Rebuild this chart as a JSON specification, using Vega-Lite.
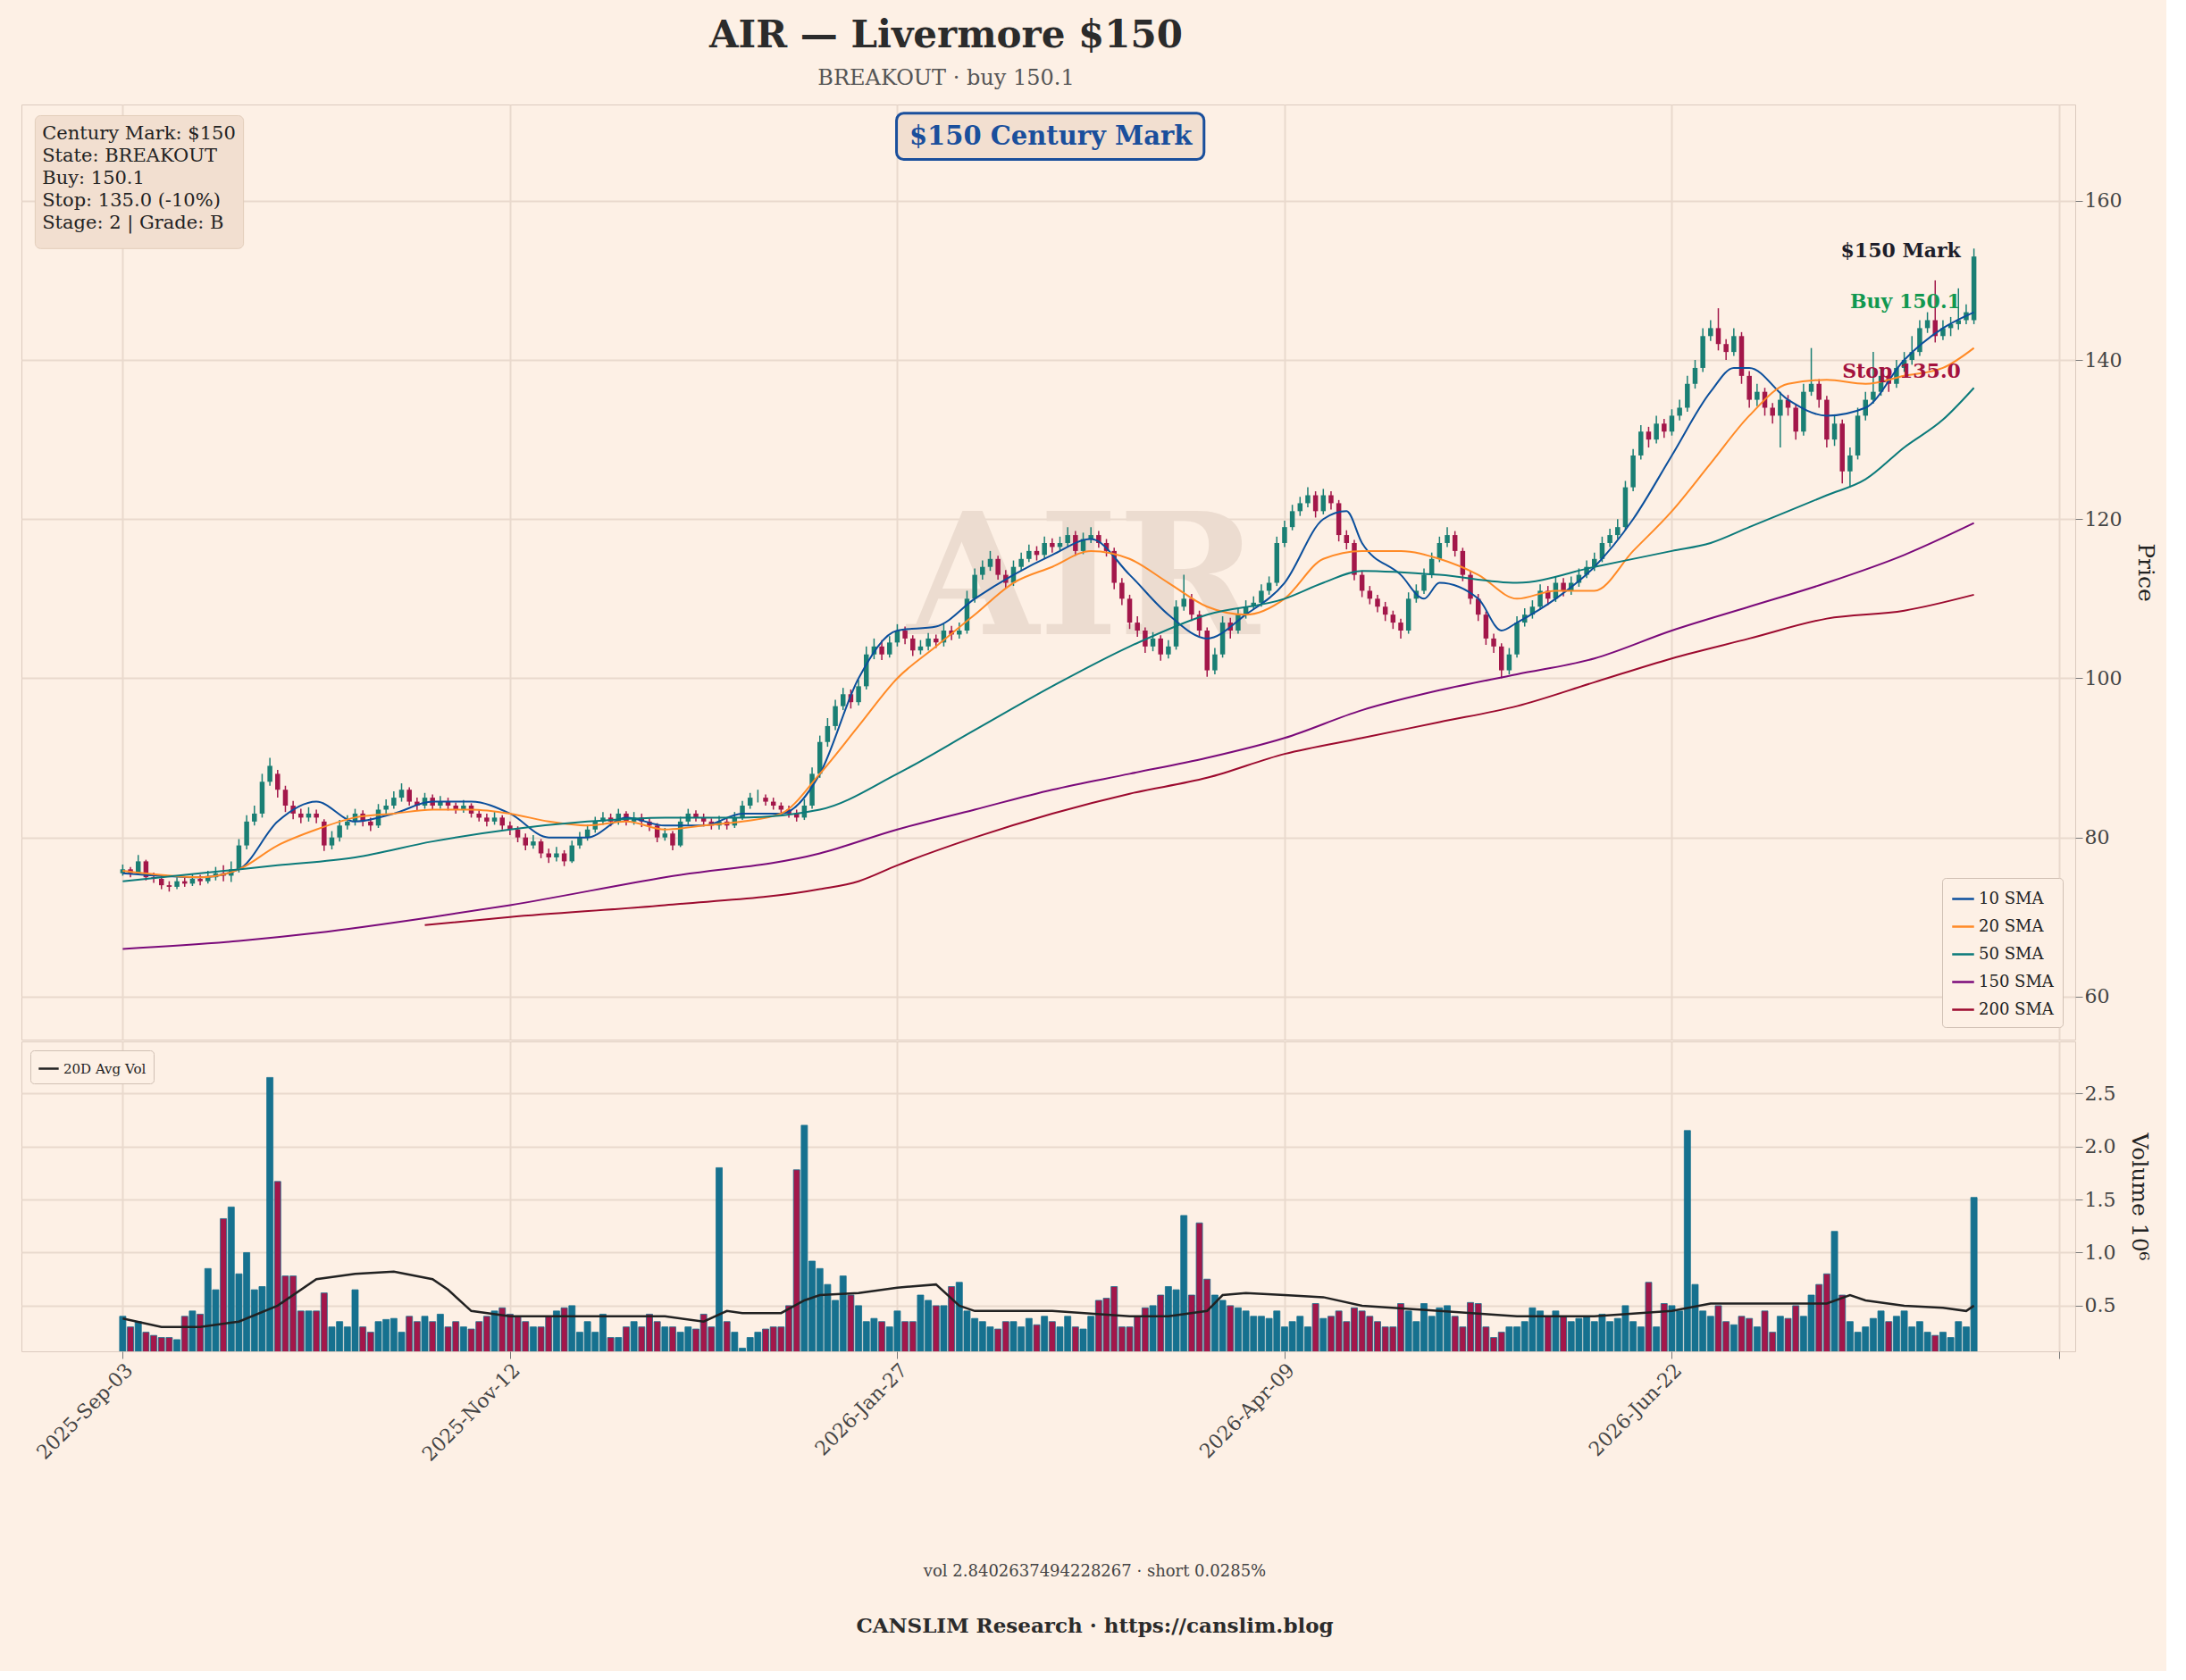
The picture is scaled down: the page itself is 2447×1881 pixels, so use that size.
{
  "$schema": "https://vega.github.io/schema/vega-lite/v6.json",
  "background": "#fdf0e5",
  "padding": {"left": 23, "top": 18, "right": 10, "bottom": 5},
  "title": {
    "text": "AIR — Livermore $150",
    "subtitle": "BREAKOUT · buy 150.1",
    "fontSize": 42, "font": "DejaVu Serif", "fontWeight": "bold", "color": "#2b2b2b",
    "subtitleFontSize": 24, "subtitleFont": "DejaVu Serif", "subtitleColor": "#555",
    "subtitlePadding": 14, "offset": 16, "anchor": "middle", "dx": -160
  },
  "datasets": {
    "candles": [
      {"i":0,"o":75.5,"h":76.6,"l":75.2,"c":76,"v":0.4},{"i":1,"o":76,"h":76.3,"l":75,"c":75.5,"v":0.3},{"i":2,"o":75.5,"h":77.8,"l":75.3,"c":77,"v":0.35},{"i":3,"o":77,"h":77.2,"l":74.6,"c":75,"v":0.25},{"i":4,"o":75,"h":75.6,"l":74.3,"c":74.8,"v":0.22},{"i":5,"o":74.8,"h":75.2,"l":73.5,"c":74,"v":0.2},{"i":6,"o":74,"h":74.5,"l":73.2,"c":73.8,"v":0.2},{"i":7,"o":73.8,"h":75,"l":73.5,"c":74.5,"v":0.18},{"i":8,"o":74.5,"h":75,"l":73.8,"c":74.2,"v":0.4},{"i":9,"o":74.2,"h":75.4,"l":73.9,"c":74.8,"v":0.45},
      {"i":10,"o":74.8,"h":75.3,"l":74,"c":74.5,"v":0.42},{"i":11,"o":74.5,"h":75.8,"l":74.2,"c":75,"v":0.85},{"i":12,"o":75,"h":76.3,"l":74.6,"c":75.5,"v":0.65},{"i":13,"o":75.5,"h":76.5,"l":74.5,"c":75.2,"v":1.32},{"i":14,"o":75.2,"h":77,"l":74.4,"c":76,"v":1.43},{"i":15,"o":76,"h":79.8,"l":75.6,"c":79,"v":0.8},{"i":16,"o":79,"h":82.8,"l":78.5,"c":82,"v":1.0},{"i":17,"o":82,"h":84,"l":81.5,"c":83,"v":0.65},{"i":18,"o":83,"h":88,"l":82.5,"c":87,"v":0.68},{"i":19,"o":87,"h":90,"l":86.5,"c":89,"v":2.65},
      {"i":20,"o":88,"h":88.5,"l":85,"c":86,"v":1.67},{"i":21,"o":86,"h":86.5,"l":83.2,"c":84,"v":0.78},{"i":22,"o":84,"h":84.6,"l":82.3,"c":83,"v":0.78},{"i":23,"o":83,"h":83.6,"l":81.8,"c":82.5,"v":0.45},{"i":24,"o":82.5,"h":83.8,"l":82,"c":83,"v":0.45},{"i":25,"o":83,"h":83.5,"l":81.8,"c":82.5,"v":0.45},{"i":26,"o":82,"h":82.3,"l":78.3,"c":79,"v":0.62},{"i":27,"o":79,"h":80.8,"l":78.5,"c":80,"v":0.3},{"i":28,"o":80,"h":82.2,"l":79.5,"c":81.5,"v":0.35},{"i":29,"o":81.5,"h":82.8,"l":81,"c":82,"v":0.3},
      {"i":30,"o":82,"h":83.6,"l":81.5,"c":83,"v":0.65},{"i":31,"o":83,"h":83.4,"l":81.4,"c":82,"v":0.3},{"i":32,"o":82,"h":82.5,"l":80.8,"c":81.5,"v":0.25},{"i":33,"o":81.5,"h":84.2,"l":81.2,"c":83.5,"v":0.35},{"i":34,"o":83.5,"h":84.8,"l":83,"c":84,"v":0.37},{"i":35,"o":84,"h":85.8,"l":83.6,"c":85,"v":0.38},{"i":36,"o":85,"h":86.8,"l":84.5,"c":86,"v":0.25},{"i":37,"o":86,"h":86.3,"l":84,"c":84.5,"v":0.4},{"i":38,"o":84.5,"h":85,"l":83.4,"c":84,"v":0.35},{"i":39,"o":84,"h":85.6,"l":83.6,"c":85,"v":0.4},
      {"i":40,"o":85,"h":85.4,"l":83.5,"c":84,"v":0.35},{"i":41,"o":84,"h":85.2,"l":83.6,"c":84.5,"v":0.42},{"i":42,"o":84.5,"h":85,"l":83.4,"c":84,"v":0.3},{"i":43,"o":84,"h":84.4,"l":83,"c":83.5,"v":0.35},{"i":44,"o":83.5,"h":84.7,"l":83.1,"c":84,"v":0.3},{"i":45,"o":84,"h":84.3,"l":82.5,"c":83,"v":0.28},{"i":46,"o":83,"h":83.4,"l":82,"c":82.5,"v":0.35},{"i":47,"o":82.5,"h":83,"l":81.4,"c":82,"v":0.4},{"i":48,"o":82,"h":83.2,"l":81.6,"c":82.5,"v":0.45},{"i":49,"o":82.5,"h":82.8,"l":81,"c":81.5,"v":0.48},
      {"i":50,"o":81.5,"h":82,"l":80.3,"c":81,"v":0.42},{"i":51,"o":81,"h":81.4,"l":79.4,"c":80,"v":0.4},{"i":52,"o":80,"h":80.5,"l":78.4,"c":79,"v":0.35},{"i":53,"o":79,"h":80.3,"l":78.6,"c":79.5,"v":0.3},{"i":54,"o":79.5,"h":79.8,"l":77.4,"c":78,"v":0.3},{"i":55,"o":78,"h":78.6,"l":76.8,"c":77.5,"v":0.4},{"i":56,"o":77.5,"h":78.8,"l":77,"c":78,"v":0.45},{"i":57,"o":78,"h":78.4,"l":76.4,"c":77,"v":0.48},{"i":58,"o":77,"h":79.6,"l":76.8,"c":79,"v":0.5},{"i":59,"o":79,"h":80.7,"l":78.6,"c":80,"v":0.25},
      {"i":60,"o":80,"h":81.6,"l":79.6,"c":81,"v":0.35},{"i":61,"o":81,"h":82.6,"l":80.6,"c":82,"v":0.25},{"i":62,"o":82,"h":83.2,"l":81.6,"c":82.5,"v":0.42},{"i":63,"o":82.5,"h":83,"l":81.4,"c":82,"v":0.2},{"i":64,"o":82,"h":83.6,"l":81.6,"c":83,"v":0.2},{"i":65,"o":83,"h":83.3,"l":81.5,"c":82,"v":0.3},{"i":66,"o":82,"h":83.2,"l":81.6,"c":82.5,"v":0.35},{"i":67,"o":82.5,"h":83,"l":81.3,"c":82,"v":0.3},{"i":68,"o":82,"h":82.4,"l":80.8,"c":81.5,"v":0.42},{"i":69,"o":81.5,"h":81.8,"l":79.4,"c":80,"v":0.35},
      {"i":70,"o":80,"h":81.2,"l":79.6,"c":80.5,"v":0.3},{"i":71,"o":80.5,"h":80.8,"l":78.4,"c":79,"v":0.3},{"i":72,"o":79,"h":82.6,"l":78.8,"c":82,"v":0.25},{"i":73,"o":82,"h":83.6,"l":81.6,"c":83,"v":0.3},{"i":74,"o":83,"h":83.4,"l":82,"c":82.5,"v":0.28},{"i":75,"o":82.5,"h":83,"l":81.4,"c":82,"v":0.42},{"i":76,"o":82,"h":82.4,"l":81,"c":81.5,"v":0.3},{"i":77,"o":81.5,"h":82.7,"l":81,"c":82,"v":1.8},{"i":78,"o":82,"h":82.4,"l":81,"c":81.5,"v":0.35},{"i":79,"o":81.5,"h":83.2,"l":81.2,"c":82.5,"v":0.25},
      {"i":80,"o":82.5,"h":84.6,"l":82.2,"c":84,"v":0.1},{"i":81,"o":84,"h":85.6,"l":83.6,"c":85,"v":0.2},{"i":82,"o":85,"h":86,"l":84.4,"c":85,"v":0.25},{"i":83,"o":85,"h":85.4,"l":84,"c":84.5,"v":0.28},{"i":84,"o":84.5,"h":85,"l":83.5,"c":84,"v":0.3},{"i":85,"o":84,"h":84.4,"l":83,"c":83.5,"v":0.3},{"i":86,"o":83.5,"h":84,"l":82.5,"c":83,"v":0.5},{"i":87,"o":83,"h":83.5,"l":82,"c":82.5,"v":1.78},{"i":88,"o":82.5,"h":84.8,"l":82.2,"c":84,"v":2.2},{"i":89,"o":84,"h":88.8,"l":83.6,"c":88,"v":0.92},
      {"i":90,"o":88,"h":92.8,"l":87.5,"c":92,"v":0.85},{"i":91,"o":92,"h":95,"l":91.4,"c":94,"v":0.7},{"i":92,"o":94,"h":97.3,"l":93.5,"c":96.5,"v":0.55},{"i":93,"o":96.5,"h":98.8,"l":96,"c":98,"v":0.78},{"i":94,"o":98,"h":98.6,"l":96.2,"c":97,"v":0.6},{"i":95,"o":97,"h":99.8,"l":96.6,"c":99,"v":0.5},{"i":96,"o":99,"h":104,"l":98.6,"c":103,"v":0.35},{"i":97,"o":103,"h":105,"l":102.4,"c":104,"v":0.38},{"i":98,"o":104,"h":104.8,"l":102.3,"c":103,"v":0.35},{"i":99,"o":103,"h":105.3,"l":102.6,"c":104.5,"v":0.3},
      {"i":100,"o":104.5,"h":106.8,"l":104,"c":106,"v":0.45},{"i":101,"o":106,"h":106.5,"l":104.3,"c":105,"v":0.35},{"i":102,"o":105,"h":105.4,"l":102.8,"c":103.5,"v":0.35},{"i":103,"o":103.5,"h":104.8,"l":103,"c":104,"v":0.6},{"i":104,"o":104,"h":105.7,"l":103.5,"c":105,"v":0.55},{"i":105,"o":105,"h":105.5,"l":103.8,"c":104.5,"v":0.5},{"i":106,"o":104.5,"h":106.8,"l":104,"c":106,"v":0.5},{"i":107,"o":106,"h":106.6,"l":104.8,"c":105.5,"v":0.68},{"i":108,"o":105.5,"h":107,"l":105,"c":106,"v":0.72},{"i":109,"o":106,"h":111,"l":105.6,"c":110,"v":0.45},
      {"i":110,"o":110,"h":113.8,"l":109.5,"c":113,"v":0.38},{"i":111,"o":113,"h":114.8,"l":112.4,"c":114,"v":0.35},{"i":112,"o":114,"h":116,"l":113.5,"c":115,"v":0.3},{"i":113,"o":115,"h":115.4,"l":112.4,"c":113,"v":0.28},{"i":114,"o":113,"h":113.6,"l":111.3,"c":112,"v":0.35},{"i":115,"o":112,"h":114.8,"l":111.6,"c":114,"v":0.35},{"i":116,"o":114,"h":115.8,"l":113.5,"c":115,"v":0.3},{"i":117,"o":115,"h":116.8,"l":114.6,"c":116,"v":0.38},{"i":118,"o":116,"h":116.6,"l":114.8,"c":115.5,"v":0.32},{"i":119,"o":115.5,"h":117.8,"l":115,"c":117,"v":0.4},
      {"i":120,"o":117,"h":117.6,"l":115.8,"c":116.5,"v":0.35},{"i":121,"o":116.5,"h":117.8,"l":116,"c":117,"v":0.3},{"i":122,"o":117,"h":119,"l":116.5,"c":118,"v":0.4},{"i":123,"o":118,"h":118.5,"l":115.4,"c":116,"v":0.3},{"i":124,"o":116,"h":118.3,"l":115.6,"c":117.5,"v":0.28},{"i":125,"o":117.5,"h":119,"l":117,"c":118,"v":0.4},{"i":126,"o":118,"h":118.5,"l":116.4,"c":117,"v":0.55},{"i":127,"o":117,"h":117.5,"l":115.3,"c":116,"v":0.57},{"i":128,"o":116,"h":116.4,"l":111.2,"c":112,"v":0.68},{"i":129,"o":112,"h":112.6,"l":109.2,"c":110,"v":0.3},
      {"i":130,"o":110,"h":110.5,"l":106.2,"c":107,"v":0.3},{"i":131,"o":107,"h":107.8,"l":105.2,"c":106,"v":0.4},{"i":132,"o":106,"h":106.4,"l":103.2,"c":104,"v":0.48},{"i":133,"o":104,"h":105.8,"l":103.4,"c":105,"v":0.5},{"i":134,"o":105,"h":105.4,"l":102.2,"c":103,"v":0.6},{"i":135,"o":103,"h":104.8,"l":102.5,"c":104,"v":0.68},{"i":136,"o":104,"h":109.8,"l":103.6,"c":109,"v":0.65},{"i":137,"o":109,"h":113,"l":108.5,"c":110,"v":1.35},{"i":138,"o":110,"h":110.6,"l":107.2,"c":108,"v":0.6},{"i":139,"o":108,"h":108.5,"l":105.2,"c":106,"v":1.28},
      {"i":140,"o":106,"h":106.4,"l":100.2,"c":101,"v":0.75},{"i":141,"o":101,"h":103.8,"l":100.5,"c":103,"v":0.6},{"i":142,"o":103,"h":107.8,"l":102.6,"c":107,"v":0.55},{"i":143,"o":107,"h":107.6,"l":105,"c":106,"v":0.5},{"i":144,"o":106,"h":108.8,"l":105.6,"c":108,"v":0.48},{"i":145,"o":108,"h":109.8,"l":107.5,"c":109,"v":0.45},{"i":146,"o":109,"h":110.3,"l":108.6,"c":109.5,"v":0.4},{"i":147,"o":109.5,"h":111.8,"l":109,"c":111,"v":0.4},{"i":148,"o":111,"h":112.8,"l":110.5,"c":112,"v":0.38},{"i":149,"o":112,"h":117.8,"l":111.6,"c":117,"v":0.45},
      {"i":150,"o":117,"h":119.8,"l":116.5,"c":119,"v":0.3},{"i":151,"o":119,"h":121.8,"l":118.6,"c":121,"v":0.35},{"i":152,"o":121,"h":122.8,"l":120.4,"c":122,"v":0.4},{"i":153,"o":122,"h":124,"l":121.5,"c":123,"v":0.3},{"i":154,"o":123,"h":123.5,"l":120.2,"c":121,"v":0.52},{"i":155,"o":121,"h":123.8,"l":120.6,"c":123,"v":0.38},{"i":156,"o":123,"h":123.5,"l":121.2,"c":122,"v":0.4},{"i":157,"o":122,"h":122.4,"l":117.2,"c":118,"v":0.45},{"i":158,"o":118,"h":118.6,"l":116.2,"c":117,"v":0.35},{"i":159,"o":117,"h":117.4,"l":112.3,"c":113,"v":0.48},
      {"i":160,"o":113,"h":113.5,"l":110.2,"c":111,"v":0.45},{"i":161,"o":111,"h":111.6,"l":109.3,"c":110,"v":0.4},{"i":162,"o":110,"h":110.5,"l":108.3,"c":109,"v":0.35},{"i":163,"o":109,"h":109.6,"l":107.2,"c":108,"v":0.3},{"i":164,"o":108,"h":108.5,"l":106.2,"c":107,"v":0.3},{"i":165,"o":107,"h":107.5,"l":105,"c":106,"v":0.52},{"i":166,"o":106,"h":110.8,"l":105.6,"c":110,"v":0.45},{"i":167,"o":110,"h":111.8,"l":109.5,"c":111,"v":0.35},{"i":168,"o":111,"h":113.8,"l":110.6,"c":113,"v":0.52},{"i":169,"o":113,"h":115.8,"l":112.6,"c":115,"v":0.4},
      {"i":170,"o":115,"h":117.8,"l":114.6,"c":117,"v":0.48},{"i":171,"o":117,"h":119,"l":116.5,"c":118,"v":0.5},{"i":172,"o":118,"h":118.5,"l":115.3,"c":116,"v":0.4},{"i":173,"o":116,"h":116.4,"l":112.2,"c":113,"v":0.3},{"i":174,"o":113,"h":113.4,"l":109.3,"c":110,"v":0.53},{"i":175,"o":110,"h":110.6,"l":107.2,"c":108,"v":0.52},{"i":176,"o":108,"h":108.4,"l":104.2,"c":105,"v":0.3},{"i":177,"o":105,"h":105.6,"l":103.2,"c":104,"v":0.2},{"i":178,"o":104,"h":104.4,"l":100,"c":101,"v":0.25},{"i":179,"o":101,"h":103.8,"l":100.5,"c":103,"v":0.3},
      {"i":180,"o":103,"h":107.8,"l":102.6,"c":107,"v":0.3},{"i":181,"o":107,"h":108.8,"l":106.5,"c":108,"v":0.35},{"i":182,"o":108,"h":109.8,"l":107.5,"c":109,"v":0.48},{"i":183,"o":109,"h":111.8,"l":108.6,"c":111,"v":0.45},{"i":184,"o":111,"h":111.6,"l":109.2,"c":110,"v":0.4},{"i":185,"o":110,"h":112.8,"l":109.6,"c":112,"v":0.45},{"i":186,"o":112,"h":112.6,"l":110.3,"c":111,"v":0.4},{"i":187,"o":111,"h":112.8,"l":110.5,"c":112,"v":0.35},{"i":188,"o":112,"h":113.8,"l":111.5,"c":113,"v":0.38},{"i":189,"o":113,"h":114.8,"l":112.6,"c":114,"v":0.4},
      {"i":190,"o":114,"h":115.8,"l":113.5,"c":115,"v":0.35},{"i":191,"o":115,"h":117.8,"l":114.6,"c":117,"v":0.42},{"i":192,"o":117,"h":118.8,"l":116.5,"c":118,"v":0.35},{"i":193,"o":118,"h":120,"l":117.5,"c":119,"v":0.38},{"i":194,"o":119,"h":124.8,"l":118.6,"c":124,"v":0.5},{"i":195,"o":124,"h":128.8,"l":123.5,"c":128,"v":0.35},{"i":196,"o":128,"h":131.8,"l":127.5,"c":131,"v":0.3},{"i":197,"o":131,"h":131.6,"l":129,"c":130,"v":0.72},{"i":198,"o":130,"h":133,"l":129.5,"c":132,"v":0.3},{"i":199,"o":132,"h":132.6,"l":130.2,"c":131,"v":0.52},
      {"i":200,"o":131,"h":133.8,"l":130.5,"c":133,"v":0.5},{"i":201,"o":133,"h":135,"l":132.4,"c":134,"v":0.45},{"i":202,"o":134,"h":138,"l":133.5,"c":137,"v":2.15},{"i":203,"o":137,"h":140,"l":136.4,"c":139,"v":0.7},{"i":204,"o":139,"h":144,"l":138.5,"c":143,"v":0.45},{"i":205,"o":143,"h":145,"l":142.4,"c":144,"v":0.4},{"i":206,"o":144,"h":146.5,"l":141.2,"c":142,"v":0.5},{"i":207,"o":142,"h":142.6,"l":140,"c":141,"v":0.35},{"i":208,"o":141,"h":144,"l":140.5,"c":143,"v":0.32},{"i":209,"o":143,"h":143.5,"l":137,"c":138,"v":0.4},
      {"i":210,"o":138,"h":138.6,"l":134,"c":135,"v":0.38},{"i":211,"o":135,"h":137,"l":134.2,"c":136,"v":0.3},{"i":212,"o":136,"h":136.5,"l":133,"c":134,"v":0.45},{"i":213,"o":134,"h":134.6,"l":132,"c":133,"v":0.25},{"i":214,"o":133,"h":136,"l":129,"c":135,"v":0.4},{"i":215,"o":135,"h":135.6,"l":133,"c":134,"v":0.38},{"i":216,"o":134,"h":134.5,"l":130,"c":131,"v":0.5},{"i":217,"o":131,"h":137,"l":130.5,"c":136,"v":0.4},{"i":218,"o":136,"h":141.5,"l":135.5,"c":137,"v":0.6},{"i":219,"o":137,"h":137.6,"l":134,"c":135,"v":0.7},
      {"i":220,"o":135,"h":135.5,"l":129,"c":130,"v":0.8},{"i":221,"o":130,"h":133,"l":129.2,"c":132,"v":1.2},{"i":222,"o":132,"h":132.5,"l":124.5,"c":126,"v":0.6},{"i":223,"o":126,"h":129,"l":124,"c":128,"v":0.35},{"i":224,"o":128,"h":134,"l":127.5,"c":133,"v":0.25},{"i":225,"o":133,"h":136,"l":132.4,"c":135,"v":0.3},{"i":226,"o":135,"h":141,"l":134.5,"c":136,"v":0.38},{"i":227,"o":136,"h":139,"l":135.5,"c":138,"v":0.45},{"i":228,"o":138,"h":139,"l":136,"c":137,"v":0.35},{"i":229,"o":137,"h":140,"l":136.5,"c":139,"v":0.4},
      {"i":230,"o":139,"h":141,"l":138.5,"c":140,"v":0.45},{"i":231,"o":140,"h":143,"l":139.4,"c":141,"v":0.3},{"i":232,"o":141,"h":145,"l":140.5,"c":144,"v":0.35},{"i":233,"o":144,"h":146,"l":143.4,"c":145,"v":0.25},{"i":234,"o":145,"h":150,"l":142.2,"c":143,"v":0.22},{"i":235,"o":143,"h":145,"l":142.5,"c":144,"v":0.25},{"i":236,"o":144,"h":145.4,"l":143,"c":144.5,"v":0.2},{"i":237,"o":144.5,"h":149,"l":143.8,"c":145,"v":0.35},{"i":238,"o":145,"h":147,"l":144.5,"c":146,"v":0.3},{"i":239,"o":145,"h":154,"l":144.5,"c":153,"v":1.52}
    ],
    "sma": [
      {"i":0,"s":"10 SMA","v":75.5},{"i":10,"s":"10 SMA","v":75},{"i":15,"s":"10 SMA","v":76},{"i":20,"s":"10 SMA","v":82},{"i":25,"s":"10 SMA","v":84.5},{"i":30,"s":"10 SMA","v":82},{"i":35,"s":"10 SMA","v":83},{"i":40,"s":"10 SMA","v":84.5},{"i":45,"s":"10 SMA","v":84.5},{"i":50,"s":"10 SMA","v":83},{"i":55,"s":"10 SMA","v":80},{"i":60,"s":"10 SMA","v":80},{"i":65,"s":"10 SMA","v":82.5},{"i":70,"s":"10 SMA","v":81.5},{"i":75,"s":"10 SMA","v":81.5},{"i":80,"s":"10 SMA","v":83},{"i":85,"s":"10 SMA","v":83},{"i":90,"s":"10 SMA","v":88},{"i":95,"s":"10 SMA","v":100},{"i":100,"s":"10 SMA","v":106},{"i":105,"s":"10 SMA","v":106.5},{"i":110,"s":"10 SMA","v":110},{"i":115,"s":"10 SMA","v":113},{"i":120,"s":"10 SMA","v":115.5},{"i":125,"s":"10 SMA","v":117.5},{"i":130,"s":"10 SMA","v":113},{"i":135,"s":"10 SMA","v":108},{"i":140,"s":"10 SMA","v":105},{"i":145,"s":"10 SMA","v":108},{"i":150,"s":"10 SMA","v":112},{"i":155,"s":"10 SMA","v":120},{"i":158,"s":"10 SMA","v":121},{"i":160,"s":"10 SMA","v":117},{"i":165,"s":"10 SMA","v":113},{"i":168,"s":"10 SMA","v":110},{"i":170,"s":"10 SMA","v":112},{"i":175,"s":"10 SMA","v":110},{"i":178,"s":"10 SMA","v":106},{"i":180,"s":"10 SMA","v":107},{"i":185,"s":"10 SMA","v":110},{"i":190,"s":"10 SMA","v":114},{"i":195,"s":"10 SMA","v":120},{"i":200,"s":"10 SMA","v":128},{"i":205,"s":"10 SMA","v":136},{"i":208,"s":"10 SMA","v":139},{"i":210,"s":"10 SMA","v":139},{"i":215,"s":"10 SMA","v":135},{"i":220,"s":"10 SMA","v":133},{"i":225,"s":"10 SMA","v":134},{"i":230,"s":"10 SMA","v":140},{"i":235,"s":"10 SMA","v":144},{"i":239,"s":"10 SMA","v":146},
      {"i":0,"s":"20 SMA","v":75.8},{"i":10,"s":"20 SMA","v":75},{"i":15,"s":"20 SMA","v":76},{"i":20,"s":"20 SMA","v":79},{"i":25,"s":"20 SMA","v":81},{"i":30,"s":"20 SMA","v":82.5},{"i":35,"s":"20 SMA","v":83},{"i":40,"s":"20 SMA","v":83.5},{"i":45,"s":"20 SMA","v":83.5},{"i":50,"s":"20 SMA","v":83},{"i":55,"s":"20 SMA","v":82},{"i":60,"s":"20 SMA","v":81.5},{"i":65,"s":"20 SMA","v":82},{"i":70,"s":"20 SMA","v":81},{"i":75,"s":"20 SMA","v":81.5},{"i":80,"s":"20 SMA","v":82},{"i":85,"s":"20 SMA","v":83},{"i":90,"s":"20 SMA","v":88},{"i":95,"s":"20 SMA","v":94},{"i":100,"s":"20 SMA","v":100},{"i":105,"s":"20 SMA","v":104},{"i":110,"s":"20 SMA","v":108},{"i":115,"s":"20 SMA","v":112},{"i":120,"s":"20 SMA","v":114},{"i":125,"s":"20 SMA","v":116},{"i":130,"s":"20 SMA","v":115},{"i":135,"s":"20 SMA","v":112},{"i":140,"s":"20 SMA","v":109},{"i":145,"s":"20 SMA","v":108},{"i":150,"s":"20 SMA","v":110},{"i":155,"s":"20 SMA","v":115},{"i":160,"s":"20 SMA","v":116},{"i":165,"s":"20 SMA","v":116},{"i":170,"s":"20 SMA","v":115},{"i":175,"s":"20 SMA","v":113},{"i":180,"s":"20 SMA","v":110},{"i":185,"s":"20 SMA","v":111},{"i":190,"s":"20 SMA","v":111},{"i":195,"s":"20 SMA","v":116},{"i":200,"s":"20 SMA","v":121},{"i":205,"s":"20 SMA","v":127},{"i":210,"s":"20 SMA","v":133},{"i":215,"s":"20 SMA","v":137},{"i":220,"s":"20 SMA","v":137.5},{"i":225,"s":"20 SMA","v":137},{"i":230,"s":"20 SMA","v":138},{"i":235,"s":"20 SMA","v":139},{"i":239,"s":"20 SMA","v":141.5},
      {"i":0,"s":"50 SMA","v":74.5},{"i":10,"s":"50 SMA","v":75.5},{"i":20,"s":"50 SMA","v":76.5},{"i":30,"s":"50 SMA","v":77.5},{"i":40,"s":"50 SMA","v":79.5},{"i":50,"s":"50 SMA","v":81},{"i":60,"s":"50 SMA","v":82},{"i":70,"s":"50 SMA","v":82.5},{"i":80,"s":"50 SMA","v":82.5},{"i":90,"s":"50 SMA","v":83.5},{"i":100,"s":"50 SMA","v":88},{"i":110,"s":"50 SMA","v":93.5},{"i":120,"s":"50 SMA","v":99},{"i":130,"s":"50 SMA","v":104},{"i":140,"s":"50 SMA","v":108},{"i":150,"s":"50 SMA","v":110},{"i":155,"s":"50 SMA","v":112},{"i":160,"s":"50 SMA","v":113.5},{"i":170,"s":"50 SMA","v":113},{"i":180,"s":"50 SMA","v":112},{"i":190,"s":"50 SMA","v":114},{"i":200,"s":"50 SMA","v":116},{"i":205,"s":"50 SMA","v":117},{"i":210,"s":"50 SMA","v":119},{"i":220,"s":"50 SMA","v":123},{"i":225,"s":"50 SMA","v":125},{"i":230,"s":"50 SMA","v":129},{"i":235,"s":"50 SMA","v":132.5},{"i":239,"s":"50 SMA","v":136.5},
      {"i":0,"s":"150 SMA","v":66},{"i":15,"s":"150 SMA","v":67},{"i":25,"s":"150 SMA","v":68},{"i":40,"s":"150 SMA","v":70},{"i":50,"s":"150 SMA","v":71.5},{"i":70,"s":"150 SMA","v":75},{"i":90,"s":"150 SMA","v":78},{"i":100,"s":"150 SMA","v":81},{"i":110,"s":"150 SMA","v":83.5},{"i":120,"s":"150 SMA","v":86},{"i":130,"s":"150 SMA","v":88},{"i":140,"s":"150 SMA","v":90},{"i":150,"s":"150 SMA","v":92.5},{"i":160,"s":"150 SMA","v":96},{"i":170,"s":"150 SMA","v":98.5},{"i":180,"s":"150 SMA","v":100.5},{"i":190,"s":"150 SMA","v":102.5},{"i":200,"s":"150 SMA","v":106},{"i":210,"s":"150 SMA","v":109},{"i":220,"s":"150 SMA","v":112},{"i":230,"s":"150 SMA","v":115.5},{"i":239,"s":"150 SMA","v":119.5},
      {"i":39,"s":"200 SMA","v":69},{"i":50,"s":"200 SMA","v":70},{"i":70,"s":"200 SMA","v":71.5},{"i":90,"s":"200 SMA","v":73.5},{"i":95,"s":"200 SMA","v":74.5},{"i":100,"s":"200 SMA","v":76.5},{"i":110,"s":"200 SMA","v":80},{"i":120,"s":"200 SMA","v":83},{"i":130,"s":"200 SMA","v":85.5},{"i":140,"s":"200 SMA","v":87.5},{"i":150,"s":"200 SMA","v":90.5},{"i":160,"s":"200 SMA","v":92.5},{"i":170,"s":"200 SMA","v":94.5},{"i":180,"s":"200 SMA","v":96.5},{"i":190,"s":"200 SMA","v":99.5},{"i":200,"s":"200 SMA","v":102.5},{"i":210,"s":"200 SMA","v":105},{"i":220,"s":"200 SMA","v":107.5},{"i":230,"s":"200 SMA","v":108.5},{"i":239,"s":"200 SMA","v":110.5}
    ],
    "avgvol": [
      {"i":0,"v":0.38,"s":"20D Avg Vol"},{"i":5,"v":0.3,"s":"20D Avg Vol"},{"i":10,"v":0.3,"s":"20D Avg Vol"},{"i":15,"v":0.35,"s":"20D Avg Vol"},{"i":20,"v":0.5,"s":"20D Avg Vol"},{"i":25,"v":0.75,"s":"20D Avg Vol"},{"i":30,"v":0.8,"s":"20D Avg Vol"},{"i":35,"v":0.82,"s":"20D Avg Vol"},{"i":40,"v":0.75,"s":"20D Avg Vol"},{"i":42,"v":0.65,"s":"20D Avg Vol"},{"i":45,"v":0.45,"s":"20D Avg Vol"},{"i":50,"v":0.4,"s":"20D Avg Vol"},{"i":60,"v":0.4,"s":"20D Avg Vol"},{"i":70,"v":0.4,"s":"20D Avg Vol"},{"i":75,"v":0.35,"s":"20D Avg Vol"},{"i":78,"v":0.45,"s":"20D Avg Vol"},{"i":80,"v":0.43,"s":"20D Avg Vol"},{"i":85,"v":0.43,"s":"20D Avg Vol"},{"i":88,"v":0.55,"s":"20D Avg Vol"},{"i":90,"v":0.6,"s":"20D Avg Vol"},{"i":95,"v":0.62,"s":"20D Avg Vol"},{"i":100,"v":0.67,"s":"20D Avg Vol"},{"i":105,"v":0.7,"s":"20D Avg Vol"},{"i":108,"v":0.5,"s":"20D Avg Vol"},{"i":110,"v":0.45,"s":"20D Avg Vol"},{"i":120,"v":0.45,"s":"20D Avg Vol"},{"i":130,"v":0.4,"s":"20D Avg Vol"},{"i":135,"v":0.4,"s":"20D Avg Vol"},{"i":140,"v":0.45,"s":"20D Avg Vol"},{"i":142,"v":0.6,"s":"20D Avg Vol"},{"i":145,"v":0.62,"s":"20D Avg Vol"},{"i":150,"v":0.6,"s":"20D Avg Vol"},{"i":155,"v":0.58,"s":"20D Avg Vol"},{"i":160,"v":0.5,"s":"20D Avg Vol"},{"i":170,"v":0.45,"s":"20D Avg Vol"},{"i":180,"v":0.4,"s":"20D Avg Vol"},{"i":190,"v":0.4,"s":"20D Avg Vol"},{"i":200,"v":0.45,"s":"20D Avg Vol"},{"i":205,"v":0.52,"s":"20D Avg Vol"},{"i":210,"v":0.52,"s":"20D Avg Vol"},{"i":220,"v":0.52,"s":"20D Avg Vol"},{"i":223,"v":0.6,"s":"20D Avg Vol"},{"i":225,"v":0.55,"s":"20D Avg Vol"},{"i":230,"v":0.5,"s":"20D Avg Vol"},{"i":235,"v":0.48,"s":"20D Avg Vol"},{"i":238,"v":0.45,"s":"20D Avg Vol"},{"i":239,"v":0.5,"s":"20D Avg Vol"}
    ]
  },
  "spacing": 0,
  "resolve": {"scale": {"color": "independent", "x": "shared"}, "legend": {"color": "independent"}},
  "vconcat": [
    {
      "width": 2299, "height": 1047,
      "layer": [
        {
          "data": {"values": [{"x1": -11.3, "x2": 15.6, "y1": 170.7, "y2": 154}]},
          "mark": {"type": "rect", "fill": "#f2dfd0", "stroke": "#e2cdbb", "cornerRadius": 6},
          "encoding": {"x": {"field": "x1", "type": "quantitative"}, "x2": {"field": "x2"}, "y": {"field": "y1", "type": "quantitative"}, "y2": {"field": "y2"}}
        },
        {
          "data": {"values": [{"x": -10.4, "y": 169.6, "t": "Century Mark: $150\nState: BREAKOUT\nBuy: 150.1\nStop: 135.0 (-10%)\nStage: 2 | Grade: B"}]},
          "mark": {"type": "text", "align": "left", "baseline": "top", "font": "DejaVu Serif", "fontSize": 21, "lineHeight": 25, "lineBreak": "\n", "color": "#222"},
          "encoding": {"x": {"field": "x", "type": "quantitative"}, "y": {"field": "y", "type": "quantitative"}, "text": {"field": "t"}}
        },
        {
          "data": {"values": [{"x": 124, "y": 112, "t": "AIR"}]},
          "mark": {"type": "text", "font": "DejaVu Serif", "fontWeight": "bold", "fontSize": 190, "color": "#ecdcd0", "baseline": "middle"},
          "encoding": {"x": {"field": "x", "type": "quantitative"}, "y": {"field": "y", "type": "quantitative"}, "text": {"field": "t"}}
        },
        {
          "data": {"values": [{"p": 150}]},
          "mark": {"type": "rule", "color": "#0e7a45", "strokeWidth": 3.5, "strokeDash": [12, 7]},
          "encoding": {"y": {"field": "p", "type": "quantitative"}}
        },
        {
          "data": {"values": [{"p": 135}]},
          "mark": {"type": "rule", "color": "#b01e48", "strokeWidth": 2.8, "strokeDash": [12, 7]},
          "encoding": {"y": {"field": "p", "type": "quantitative"}}
        },
        {
          "data": {"name": "candles"},
          "mark": {"type": "rule", "strokeWidth": 1.5},
          "encoding": {
            "x": {"field": "i", "type": "quantitative"},
            "y": {"field": "l", "type": "quantitative"},
            "y2": {"field": "h"},
            "color": {"condition": {"test": "datum.c >= datum.o", "value": "#1a7f74"}, "value": "#a3174a"}
          }
        },
        {
          "data": {"name": "candles"},
          "mark": {"type": "bar", "size": 5.5},
          "encoding": {
            "x": {"field": "i", "type": "quantitative"},
            "y": {"field": "o", "type": "quantitative"},
            "y2": {"field": "c"},
            "color": {"condition": {"test": "datum.c >= datum.o", "value": "#1a7f74"}, "value": "#a3174a"}
          }
        },
        {
          "data": {"name": "sma"},
          "mark": {"type": "line", "interpolate": "monotone"},
          "encoding": {
            "x": {"field": "i", "type": "quantitative"},
            "y": {"field": "v", "type": "quantitative"},
            "detail": {"field": "s"},
            "color": {
              "field": "s", "type": "nominal", "title": null,
              "scale": {"domain": ["10 SMA", "20 SMA", "50 SMA", "150 SMA", "200 SMA"], "range": ["#0b4f9c", "#ff8a26", "#0b7a7a", "#7a0a7a", "#9c0a2e"]},
              "legend": {"orient": "bottom-right", "fillColor": "#fdf0e5", "strokeColor": "#d0c0b4", "padding": 10, "cornerRadius": 4, "labelFont": "DejaVu Serif", "labelFontSize": 18, "symbolType": "stroke", "symbolStrokeWidth": 2.5, "symbolSize": 600, "rowPadding": 8, "offset": 14}
            },
            "strokeWidth": {"field": "s", "type": "nominal", "legend": null, "scale": {"domain": ["10 SMA", "20 SMA", "50 SMA", "150 SMA", "200 SMA"], "range": [2, 2, 2.5, 3, 3.8]}}
          }
        },
        {
          "data": {"values": [{"x": 237.3, "y": 153.7, "t": "$150 Mark"}]},
          "mark": {"type": "text", "align": "right", "font": "DejaVu Serif", "fontWeight": "bold", "fontSize": 22, "color": "#1e1e2a"},
          "encoding": {"x": {"field": "x", "type": "quantitative"}, "y": {"field": "y", "type": "quantitative"}, "text": {"field": "t"}}
        },
        {
          "data": {"values": [{"x": 237.3, "y": 147.3, "t": "Buy 150.1"}]},
          "mark": {"type": "text", "align": "right", "font": "DejaVu Serif", "fontWeight": "bold", "fontSize": 22, "color": "#119850"},
          "encoding": {"x": {"field": "x", "type": "quantitative"}, "y": {"field": "y", "type": "quantitative"}, "text": {"field": "t"}}
        },
        {
          "data": {"values": [{"x": 237.3, "y": 138.6, "t": "Stop 135.0"}]},
          "mark": {"type": "text", "align": "right", "font": "DejaVu Serif", "fontWeight": "bold", "fontSize": 22, "color": "#a3123e"},
          "encoding": {"x": {"field": "x", "type": "quantitative"}, "y": {"field": "y", "type": "quantitative"}, "text": {"field": "t"}}
        },
        {
          "data": {"values": [{"x1": 99.9, "x2": 139.6, "y1": 171, "y2": 165.2}]},
          "mark": {"type": "rect", "fill": "#f2dfd0", "stroke": "#1a4f9c", "strokeWidth": 3, "cornerRadius": 8},
          "encoding": {"x": {"field": "x1", "type": "quantitative"}, "x2": {"field": "x2"}, "y": {"field": "y1", "type": "quantitative"}, "y2": {"field": "y2"}}
        },
        {
          "data": {"values": [{"x": 119.8, "y": 168.1, "t": "$150 Century Mark"}]},
          "mark": {"type": "text", "baseline": "middle", "font": "DejaVu Serif", "fontWeight": "bold", "fontSize": 29, "color": "#1a4f9c"},
          "encoding": {"x": {"field": "x", "type": "quantitative"}, "y": {"field": "y", "type": "quantitative"}, "text": {"field": "t"}}
        }
      ],
      "encoding": {
        "x": {"field": "i", "type": "quantitative", "scale": {"domain": [-12.5, 251.5], "nice": false, "zero": false}, "axis": {"values": [0, 50, 100, 150, 200, 250], "labels": false, "ticks": false, "title": null}},
        "y": {"field": "p", "type": "quantitative", "scale": {"domain": [54.6, 172.1], "nice": false, "zero": false}, "axis": {"orient": "right", "values": [60, 80, 100, 120, 140, 160], "title": "Price", "titleFontSize": 25, "titlePadding": 14}}
      }
    },
    {
      "width": 2299, "height": 347,
      "layer": [
        {
          "data": {"name": "candles"},
          "mark": {"type": "bar", "size": 7, "clip": true},
          "encoding": {
            "x": {"field": "i", "type": "quantitative"},
            "y": {"field": "v", "type": "quantitative"},
            "color": {"condition": {"test": "datum.c >= datum.o", "value": "#16718f"}, "value": "#a3174a"},
            "stroke": {"value": "#16718f"}, "strokeWidth": {"value": 0.8}
          }
        },
        {
          "data": {"name": "avgvol"},
          "mark": {"type": "line", "strokeWidth": 2.5},
          "encoding": {
            "x": {"field": "i", "type": "quantitative"},
            "y": {"field": "v", "type": "quantitative"},
            "color": {"field": "s", "type": "nominal", "title": null, "scale": {"domain": ["20D Avg Vol"], "range": ["#222222"]},
              "legend": {"orient": "top-left", "fillColor": "#fdf0e5", "strokeColor": "#d0c0b4", "padding": 8, "cornerRadius": 4, "labelFont": "DejaVu Serif", "labelFontSize": 15, "symbolType": "stroke", "symbolStrokeWidth": 2.5, "symbolSize": 500, "offset": 10}}
          }
        }
      ],
      "encoding": {
        "x": {"field": "i", "type": "quantitative", "scale": {"domain": [-12.5, 251.5], "nice": false, "zero": false},
          "axis": {"values": [0, 50, 100, 150, 200, 250], "labelExpr": "datum.value == 0 ? '2025-Sep-03' : datum.value == 50 ? '2025-Nov-12' : datum.value == 100 ? '2026-Jan-27' : datum.value == 150 ? '2026-Apr-09' : datum.value == 200 ? '2026-Jun-22' : ''", "labelAngle": -45, "labelAlign": "right", "labelBaseline": "top", "labelFontSize": 22, "title": null, "ticks": true, "tickSize": 8}},
        "y": {"field": "v", "type": "quantitative", "scale": {"domain": [0.07, 2.99], "nice": false, "zero": false}, "axis": {"orient": "right", "values": [0.5, 1, 1.5, 2, 2.5], "format": ".1f", "title": "Volume  10⁶", "titleFontSize": 25, "titlePadding": 14}}
      }
    },
    {
      "width": 2299, "height": 225,
      "view": {"stroke": null},
      "encoding": {
        "x": {"field": "x", "type": "quantitative", "scale": {"domain": [-12.5, 251.5], "nice": false}, "axis": null},
        "y": {"field": "y", "type": "quantitative", "scale": {"domain": [0, 1]}, "axis": null},
        "text": {"field": "t"}
      },
      "layer": [
        {
          "data": {"values": [{"x": 125.5, "y": 0.47, "t": "vol 2.8402637494228267 · short 0.0285%"}]},
          "mark": {"type": "text", "font": "DejaVu Serif", "color": "#444", "fontSize": 18, "baseline": "middle"}
        },
        {
          "data": {"values": [{"x": 125.5, "y": 0.2, "t": "CANSLIM Research  ·  https://canslim.blog"}]},
          "mark": {"type": "text", "font": "DejaVu Serif", "color": "#2b2b2b", "fontSize": 23, "fontWeight": "bold", "baseline": "middle"}
        }
      ]
    }
  ],
  "config": {
    "font": "DejaVu Serif",
    "view": {"stroke": "#dccbbf"},
    "axis": {"labelFont": "DejaVu Serif", "labelFontSize": 22, "labelColor": "#444", "titleFont": "DejaVu Serif", "titleFontWeight": "normal", "titleColor": "#222", "gridColor": "#e9d9cd", "gridWidth": 2, "domain": false, "tickColor": "#777", "tickSize": 8},
    "legend": {"labelColor": "#222"}
  }
}
